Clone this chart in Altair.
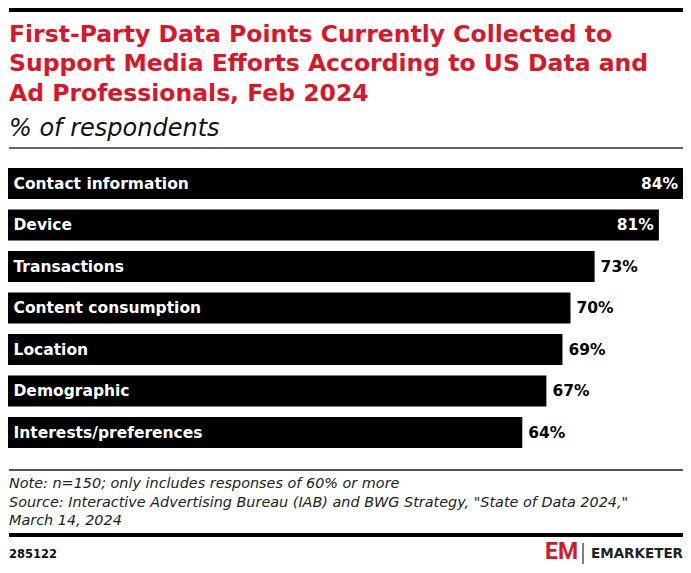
import altair as alt
import pandas as pd

categories = ["Contact information", "Device", "Transactions", "Content consumption",
              "Location", "Demographic", "Interests/preferences"]
values = [84, 81, 73, 70, 69, 67, 64]

title_lines = ["First-Party Data Points Currently Collected to",
               "Support Media Efforts According to US Data and",
               "Ad Professionals, Feb 2024"]
subtitle = "% of respondents"
note_lines = ["Note: n=150; only includes responses of 60% or more",
              "Source: Interactive Advertising Bureau (IAB) and BWG Strategy, \"State of Data 2024,\"",
              "March 14, 2024"]
chart_id = "285122"
brand_mark = "EM"
brand_name = "EMARKETER"

W, H = 675, 557
RED = "#d7182a"
FONT = "DejaVu Sans"

df = pd.DataFrame({"category": categories, "value": values})
df["label"] = [f"{v}%" for v in values]

xs = alt.Scale(domain=[0, 84], range=[0, W])
ys = alt.Scale(domain=categories, range=[154.75, 445.25], paddingInner=0.253, paddingOuter=0.1265)
X = alt.X("value:Q", scale=xs, axis=None)
Y = alt.Y("category:N", sort=categories, scale=ys, axis=None)

base = alt.Chart(df)
bars = base.mark_bar(color="#000000").encode(x=X, y=Y)
cat_labels = base.mark_text(align="left", baseline="middle", font=FONT, fontWeight="bold",
                            fontSize=15.5, color="white").encode(x=alt.value(5.5), y=Y, text="category:N")
val_in = base.transform_filter(alt.datum.value >= 80).mark_text(
    align="right", baseline="middle", dx=-5, font=FONT, fontWeight="bold", fontSize=15.5,
    color="white").encode(x=X, y=Y, text="label:N")
val_out = base.transform_filter(alt.datum.value < 80).mark_text(
    align="left", baseline="middle", dx=6, font=FONT, fontWeight="bold", fontSize=15.5,
    color="black").encode(x=X, y=Y, text="label:N")


def txt(s, x, y, baseline="alphabetic", **kw):
    return alt.Chart(pd.DataFrame({"t": [s]})).mark_text(baseline=baseline, **kw).encode(
        x=alt.value(x), y=alt.value(y), text="t:N")


def rule(x1, x2, y1, y2, color, width):
    return alt.Chart(pd.DataFrame({"a": [0]})).mark_rule(color=color, strokeWidth=width).encode(
        x=alt.value(x1), x2=alt.value(x2), y=alt.value(y1), y2=alt.value(y2))


layers = [
    rule(1, W, 2, 2, "#000000", 4),
    rule(1, W, 140, 140, "#333333", 1.5),
    rule(1, W, 462, 462, "#555555", 2),
    rule(1, W, 527, 527, "#000000", 4),
    rule(575, 575, 535, 556, "#555555", 1.5),
]
for i, line in enumerate(title_lines):
    layers.append(txt(line, 1, 33.5 + i * 29.5, align="left", font=FONT, fontWeight="bold",
                      fontSize=23.5, color=RED))
layers.append(txt(subtitle, 1, 128, align="left", font=FONT, fontStyle="italic",
                  fontWeight=300, fontSize=24, color="#111111"))
for i, line in enumerate(note_lines):
    layers.append(txt(line, 1, 480.3 + i * 18.4, align="left", font=FONT, fontStyle="italic",
                      fontWeight=300, fontSize=14.4, color="#222222"))
layers.append(txt(chart_id, 1, 550, align="left", font=FONT, fontWeight="bold",
                  fontSize=11.5, color="#111111"))
layers.append(txt(brand_mark, 537, 556, baseline="bottom", align="left", font="Roboto",
                  fontWeight="bold", fontSize=23, color=RED))
layers.append(txt(brand_name, W, 550, align="right", font=FONT, fontWeight="bold",
                  fontSize=13.5, color="#222222"))

chart = alt.layer(bars, cat_labels, val_in, val_out, *layers).properties(
    width=W, height=H, padding=0, autosize=alt.AutoSizeParams(type="none"),
    background="white"
).configure_view(stroke=None)

chart.save("out.html", embed_options={"renderer": "svg", "actions": False})
